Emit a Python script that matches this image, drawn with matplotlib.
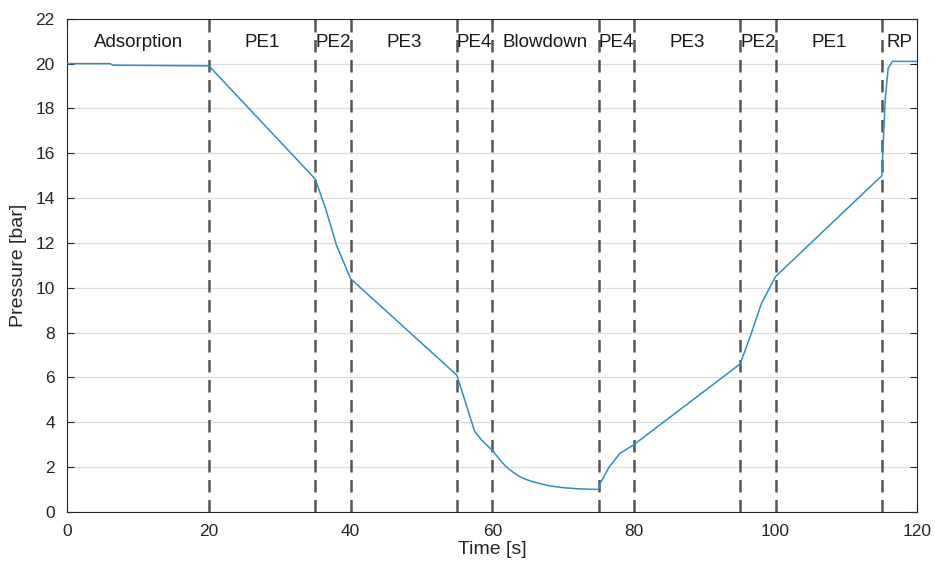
import matplotlib.pyplot as plt
import numpy as np

plt.rcParams['font.family'] = ['Liberation Sans', 'DejaVu Sans']

# pressure history
time = [0, 6, 6.5, 20, 35, 36.5, 38, 40, 55, 56.5, 57.5, 58.5, 60,
        61, 62, 63, 64, 65, 66, 67, 68, 69, 70, 72, 75, 75.2, 76.5, 78, 80,
        95, 96.5, 98, 100, 115, 115.2, 115.5, 115.9, 116.5, 120]
pressure = [20.0, 20.0, 19.93, 19.9, 14.85, 13.5, 11.9, 10.4, 6.1, 4.6, 3.6, 3.2, 2.75,
            2.35, 2.0, 1.75, 1.55, 1.42, 1.32, 1.24, 1.17, 1.12, 1.08, 1.03, 1.0, 1.25, 2.0, 2.6, 3.0,
            6.6, 7.9, 9.3, 10.5, 15.0, 16.5, 18.5, 19.8, 20.1, 20.1]

steps = [20, 35, 40, 55, 60, 75, 80, 95, 100, 115]
step_names = ['Adsorption', 'PE1', 'PE2', 'PE3', 'PE4', 'Blowdown',
              'PE4', 'PE3', 'PE2', 'PE1', 'RP']

fig = plt.figure(figsize=(9.35, 5.70), dpi=100)
ax = fig.add_axes([0.072, 0.102, 0.909, 0.865])

ax.plot(time, pressure, color='#2f8ccd', lw=1.1, zorder=3)

for s in steps:
    ax.axvline(s, color='#555555', lw=1.8, ls=(0, (5, 3)), zorder=2)

edges = [0] + steps + [120]
for i, name in enumerate(step_names):
    ax.text((edges[i] + edges[i + 1]) / 2, 20.95, name, ha='center', va='center',
            fontsize=13.5, color='#1a1a1a')

ax.set_xlim(0, 120)
ax.set_ylim(0, 22)
ax.set_xticks(np.arange(0, 121, 20))
ax.set_yticks(np.arange(0, 23, 2))
ax.yaxis.grid(True, color='#dcdcdc', lw=0.9)
ax.set_axisbelow(True)
ax.tick_params(direction='in', top=True, right=True, labelsize=12.5, colors='#262626',
               length=5)
ax.tick_params(axis='x', pad=9)
ax.tick_params(axis='y', pad=9)
for sp in ax.spines.values():
    sp.set_color('#262626')
    sp.set_linewidth(0.8)

ax.set_xlabel('Time [s]', fontsize=14, color='#262626', labelpad=1)
ax.set_ylabel('Pressure [bar]', fontsize=14, color='#262626', labelpad=6)

fig.savefig('out.png', dpi=100)
